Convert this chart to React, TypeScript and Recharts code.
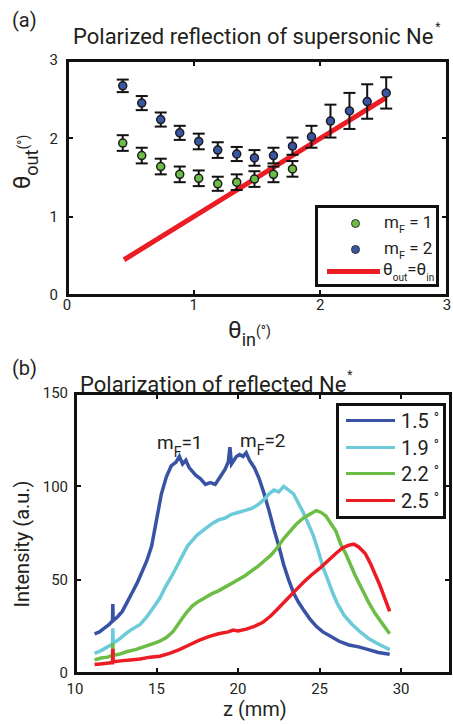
import React from 'react'
import { ComposedChart, LineChart, Line, Scatter, ErrorBar, XAxis, YAxis, Legend } from 'recharts'

// ---- panel (a): polarized reflection ----
const thetaIn = [0.44, 0.59, 0.74, 0.89, 1.04, 1.19, 1.34, 1.48, 1.63, 1.78, 1.93, 2.08, 2.23, 2.37, 2.52]
const mf2Out = [2.67, 2.45, 2.24, 2.07, 1.96, 1.85, 1.8, 1.75, 1.78, 1.9, 2.02, 2.22, 2.35, 2.47, 2.58]
const mf2Err = [0.08, 0.09, 0.09, 0.09, 0.1, 0.1, 0.09, 0.1, 0.1, 0.11, 0.14, 0.21, 0.23, 0.22, 0.2]
const mf1Out = [1.94, 1.78, 1.64, 1.54, 1.49, 1.42, 1.44, 1.48, 1.54, 1.61]
const mf1Err = [0.1, 0.1, 0.1, 0.1, 0.1, 0.09, 0.1, 0.1, 0.1, 0.1]
const diagX = [0.45, 2.52]
const ticksA = [0, 1, 2, 3]

// ---- panel (b): intensity profiles ----
const blueZ = [11.2, 11.5, 11.8, 12.1, 12.3, 12.32, 12.34, 12.6, 12.9, 13.2, 13.5, 13.8, 14.1, 14.4, 14.7, 15.0, 15.3, 15.6, 15.9, 16.2, 16.4, 16.6, 16.8, 17.0, 17.2, 17.4, 17.7, 18.0, 18.3, 18.6, 18.9, 19.2, 19.4, 19.5, 19.6, 19.9, 20.1, 20.3, 20.5, 20.7, 21.0, 21.3, 21.6, 21.9, 22.2, 22.5, 22.8, 23.1, 23.4, 23.7, 24.0, 24.4, 24.8, 25.2, 25.7, 26.2, 26.8, 27.4, 28.0, 28.6, 29.3]
const blueI = [21, 22, 24, 26, 28, 37, 28, 30, 33, 38, 43, 48, 54, 60, 68, 82, 96, 105, 111, 113, 116, 112, 114, 110, 108, 106, 104, 101, 102, 101, 105, 109, 113, 121, 112, 116, 117, 116, 118, 114, 110, 104, 96, 87, 77, 68, 58, 50, 43, 38, 34, 29, 25, 22, 19.5, 17, 15, 14, 12.5, 11, 10]

const cyanZ = [11.2, 11.6, 12.0, 12.3, 12.32, 12.34, 12.7, 13.1, 13.5, 14.0, 14.4, 14.8, 15.2, 15.6, 16.0, 16.3, 16.6, 16.9, 17.2, 17.5, 17.8, 18.1, 18.4, 18.8, 19.2, 19.6, 20.0, 20.4, 20.8, 21.2, 21.6, 21.9, 22.2, 22.5, 22.8, 23.1, 23.4, 23.7, 24.0, 24.3, 24.6, 24.9, 25.2, 25.5, 25.8, 26.1, 26.5, 27.0, 27.5, 28.0, 28.6, 29.3]
const cyanI = [10.5, 12, 14, 15.5, 24, 16, 18, 21, 23.5, 26, 30, 35, 40, 47, 53, 58, 63, 68, 71, 74, 76, 78, 80, 82, 83, 85, 86, 87, 88, 90, 93, 96, 98, 97, 100, 98, 96, 91, 86, 80, 74, 66, 57, 50, 43, 37, 31, 26, 22, 18.5, 15.5, 12.5]

const greenZ = [11.2, 11.6, 12.0, 12.3, 12.32, 12.34, 12.7, 13.2, 13.7, 14.2, 14.7, 15.2, 15.6, 16.0, 16.4, 16.8, 17.2, 17.6, 18.0, 18.4, 18.8, 19.2, 19.6, 20.0, 20.4, 20.8, 21.2, 21.6, 22.0, 22.4, 22.8, 23.2, 23.6, 24.0, 24.4, 24.8, 25.1, 25.4, 25.7, 26.0, 26.3, 26.6, 26.9, 27.2, 27.6, 28.0, 28.4, 28.8, 29.3]
const greenI = [7, 8, 8.5, 9.5, 16, 9.5, 10, 11.5, 12.5, 14, 15.5, 17, 19, 22, 27, 32, 36, 38.5, 40.5, 42.5, 44, 46, 48, 50, 52, 54.5, 57, 60, 63, 67, 72, 76, 80, 83, 85, 87, 86, 84, 80, 76, 69, 64, 58, 52, 45, 38, 32, 27, 21]

const redZ = [11.2, 11.7, 12.2, 12.3, 12.32, 12.34, 12.8, 13.4, 14.0, 14.6, 15.2, 15.8, 16.4, 17.0, 17.6, 18.2, 18.8, 19.4, 19.7, 20.0, 20.5, 21.0, 21.5, 22.0, 22.5, 23.0, 23.5, 24.0, 24.5, 25.0, 25.5, 26.0, 26.4, 26.8, 27.1, 27.4, 27.8, 28.1, 28.4, 28.7, 29.0, 29.3]
const redI = [4.5, 5, 5.5, 5.5, 13, 6, 6.5, 7, 7.5, 8.5, 9, 10.5, 12.5, 15, 17.5, 19.5, 21, 22, 23, 22.5, 23.5, 25, 27, 30.5, 35, 39.5, 44, 48.5, 52.5, 56, 60, 64, 67, 68.5, 69, 67.5, 64, 59, 53, 47, 40, 33]

const angleLabels = ['1.5', '1.9', '2.2', '2.5']
const zTicks = [10, 15, 20, 25, 30]
const iTicks = [0, 50, 100, 150]

const FONT = 'Roboto, "Liberation Sans", sans-serif'
const INK = '#231f20'
const BLUE_PT = '#3b55a5'
const GREEN_PT = '#6cbd45'
const RED = '#ec1c24'
const curveColors = ['#3953a4', '#6dcad9', '#6bbd45', '#ed1c24']

const mf2Data = thetaIn.map((x, i) => ({ x, y: mf2Out[i], err: mf2Err[i] }))
const mf1Data = mf1Out.map((y, i) => ({ x: thetaIn[i], y, err: mf1Err[i] }))
const diagData = diagX.map((x) => ({ x, y: x }))

const zip = (zs: number[], vs: number[]) => zs.map((z, i) => ({ z, v: vs[i] }))
const curves = [zip(blueZ, blueI), zip(cyanZ, cyanI), zip(greenZ, greenI), zip(redZ, redI)]

const tickStyle = { fill: INK, fontSize: 15, fontFamily: FONT, stroke: 'none' }

// MATLAB-style box with inward ticks on all four sides, laid over the plot area
type Box = { l: number; t: number; r: number; b: number }
function Frame({ box, xd, yd, xt, yt, w }: { box: Box; xd: number[]; yd: number[]; xt: number[]; yt: number[]; w: number }) {
  const sx = (v: number) => box.l + ((v - xd[0]) / (xd[1] - xd[0])) * (box.r - box.l)
  const sy = (v: number) => box.b - ((v - yd[0]) / (yd[1] - yd[0])) * (box.b - box.t)
  const len = 4 + w / 2
  const mark = (left: number, top: number, width: number, height: number, key: string) => (
    <div key={key} style={{ position: 'absolute', left, top, width, height, background: '#111' }} />
  )
  return (
    <>
      <div style={{
        position: 'absolute', left: box.l - w / 2, top: box.t - w / 2,
        width: box.r - box.l + w, height: box.b - box.t + w,
        border: `${w}px solid #111`, boxSizing: 'border-box', pointerEvents: 'none',
      }} />
      {xt.map((t) => mark(sx(t) - 1, box.b - len, 2, len, 'xb' + t))}
      {xt.map((t) => mark(sx(t) - 1, box.t, 2, len, 'xt' + t))}
      {yt.map((t) => mark(box.l, sy(t) - 1, len, 2, 'yl' + t))}
      {yt.map((t) => mark(box.r - len, sy(t) - 1, len, 2, 'yr' + t))}
    </>
  )
}

const dot = (fill: string) => (p: any) => (
  <circle cx={p.cx} cy={p.cy} r={4} fill={fill} stroke="#1c1c1c" strokeWidth={1.5} />
)

const abs = (left: number, top: number, extra: React.CSSProperties = {}): React.CSSProperties => ({
  position: 'absolute',
  left,
  top,
  fontFamily: FONT,
  color: INK,
  whiteSpace: 'nowrap',
  lineHeight: 1,
  ...extra,
})

function Sub({ children, size = 12, drop = 6 }: { children: React.ReactNode; size?: number; drop?: number }) {
  return <span style={{ fontSize: size, position: 'relative', top: drop }}>{children}</span>
}

function LegendA() {
  const row = (color: string, label: string, top: number) => (
    <div style={{ position: 'absolute', left: 0, top, width: '100%', height: 20 }}>
      <div style={{ position: 'absolute', left: 33, top: 5, width: 9, height: 9, borderRadius: 5, background: color, border: '1px solid #333', boxSizing: 'border-box' }} />
      <div style={{ position: 'absolute', left: 66, top: 0, fontSize: 17, whiteSpace: 'nowrap' }}>
        m<Sub size={11} drop={5}>F</Sub> = {label}
      </div>
    </div>
  )
  return (
    <div style={{ position: 'relative', width: 124, height: 82, border: '3px solid #111', boxSizing: 'border-box', background: '#fff', fontFamily: FONT, color: INK, lineHeight: 1 }}>
      {row(GREEN_PT, '1', 6)}
      {row(BLUE_PT, '2', 32)}
      <div style={{ position: 'absolute', left: 9, top: 61, width: 53, height: 5, background: RED }} />
      <div style={{ position: 'absolute', left: 65, top: 53, fontSize: 17, whiteSpace: 'nowrap' }}>
        θ<Sub size={10} drop={6}>out</Sub>=θ<Sub size={10} drop={6}>in</Sub>
      </div>
    </div>
  )
}

function LegendB() {
  return (
    <div style={{ position: 'relative', width: 110, height: 116, border: '3px solid #111', boxSizing: 'border-box', background: '#fff', fontFamily: FONT, color: INK, lineHeight: 1 }}>
      {angleLabels.map((a, i) => (
        <div key={a} style={{ position: 'absolute', left: 0, top: 4 + i * 26.7, width: '100%', height: 24 }}>
          <div style={{ position: 'absolute', left: 7, top: 9, width: 49, height: 3, background: curveColors[i] }} />
          <div style={{ position: 'absolute', left: 62, top: 1, fontSize: 20, whiteSpace: 'nowrap' }}>
            {a} <span style={{ fontSize: 14, position: 'relative', top: -5 }}>°</span>
          </div>
        </div>
      ))}
    </div>
  )
}

const boxA: Box = { l: 67, t: 60, r: 447, b: 295 }
const boxB: Box = { l: 75, t: 33, r: 450, b: 313 }

function PanelA() {
  return (
    <div style={{ position: 'absolute', left: 0, top: 0, width: 453, height: 360 }}>
      <ComposedChart width={453} height={360} margin={{ top: boxA.t, right: 453 - boxA.r, bottom: 0, left: 0 }}>
        <XAxis dataKey="x" type="number" domain={[0, 3]} ticks={ticksA} allowDataOverflow height={360 - boxA.b}
          axisLine={false} tickLine={false} tickSize={4} tickMargin={0} tick={tickStyle} />
        <YAxis type="number" domain={[0, 3]} ticks={ticksA} allowDataOverflow width={boxA.l}
          axisLine={false} tickLine={false} tickSize={4} tickMargin={5} tick={tickStyle} />
        <Line data={diagData} dataKey="y" stroke={RED} strokeWidth={5} dot={false} isAnimationActive={false} legendType="line" name="θout = θin" />
        <Scatter data={mf1Data} dataKey="y" name="mF = 1" shape={dot(GREEN_PT)} isAnimationActive={false}>
          <ErrorBar dataKey="err" direction="y" width={6} stroke="#111" strokeWidth={2} isAnimationActive={false} />
        </Scatter>
        <Scatter data={mf2Data} dataKey="y" name="mF = 2" shape={dot(BLUE_PT)} isAnimationActive={false}>
          <ErrorBar dataKey="err" direction="y" width={6} stroke="#111" strokeWidth={2} isAnimationActive={false} />
        </Scatter>
        <Legend layout="vertical" align="center" verticalAlign="middle" content={() => <LegendA />}
          wrapperStyle={{ left: 315, top: 205, width: 124, height: 82 }} />
      </ComposedChart>
      <Frame box={boxA} xd={[0, 3]} yd={[0, 3]} xt={ticksA} yt={ticksA} w={3} />
      <div style={abs(12, 10, { fontSize: 20 })}>(a)</div>
      <div style={abs(73, 26, { fontSize: 22 })}>
        Polarized reflection of supersonic Ne<span style={{ fontSize: 12, position: 'relative', top: -13, marginLeft: 2 }}>*</span>
      </div>
      <div style={abs(228, 318, { fontSize: 24 })}>
        θ<Sub size={18} drop={8}>in</Sub><span style={{ fontSize: 14, position: 'relative', top: -2 }}>(°)</span>
      </div>
      <div style={abs(-33, 150, { fontSize: 24, transform: 'rotate(-90deg)', transformOrigin: 'center', width: 110, textAlign: 'center' })}>
        θ<Sub size={18} drop={8}>out</Sub><span style={{ fontSize: 14, position: 'relative', top: -2 }}>(°)</span>
      </div>
    </div>
  )
}

function PanelB() {
  return (
    <div style={{ position: 'absolute', left: 0, top: 360, width: 453, height: 364 }}>
      <LineChart width={453} height={364} margin={{ top: boxB.t, right: 453 - boxB.r, bottom: 0, left: 0 }}>
        <XAxis dataKey="z" type="number" domain={[10, 33]} ticks={zTicks} allowDataOverflow height={364 - boxB.b}
          axisLine={false} tickLine={false} tickSize={4} tickMargin={6} tick={tickStyle} />
        <YAxis type="number" domain={[0, 150]} ticks={iTicks} allowDataOverflow width={boxB.l}
          axisLine={false} tickLine={false} tickSize={4} tickMargin={3} tick={tickStyle} />
        {curves.map((d, i) => (
          <Line key={angleLabels[i]} data={d} dataKey="v" name={angleLabels[i] + ' °'} stroke={curveColors[i]}
            strokeWidth={3.5} dot={false} type="linear" isAnimationActive={false} />
        ))}
        <Legend layout="vertical" align="center" verticalAlign="middle" content={() => <LegendB />}
          wrapperStyle={{ left: 336, top: 43, width: 110, height: 116 }} />
      </LineChart>
      <Frame box={boxB} xd={[10, 33]} yd={[0, 150]} xt={zTicks} yt={iTicks} w={3} />
      <div style={abs(12, -2, { fontSize: 20 })}>(b)</div>
      <div style={abs(80, 14, { fontSize: 22 })}>
        Polarization of reflected Ne<span style={{ fontSize: 12, position: 'relative', top: -13, marginLeft: 1 }}>*</span>
      </div>
      <div style={abs(157, 73, { fontSize: 19 })}>
        m<Sub size={14} drop={8}>F</Sub>=1
      </div>
      <div style={abs(240, 71, { fontSize: 19 })}>
        m<Sub size={14} drop={8}>F</Sub>=2
      </div>
      <div style={abs(223, 339, { fontSize: 20 })}>z (mm)</div>
      <div style={abs(-58, 174, { fontSize: 20, transform: 'rotate(-90deg)', transformOrigin: 'center', width: 160, textAlign: 'center' })}>
        Intensity (a.u.)
      </div>
    </div>
  )
}

export default function App() {
  return (
    <div style={{ position: 'absolute', left: 0, top: 0, width: 453, height: 724, background: '#fff', overflow: 'hidden' }}>
      <PanelA />
      <PanelB />
    </div>
  )
}
